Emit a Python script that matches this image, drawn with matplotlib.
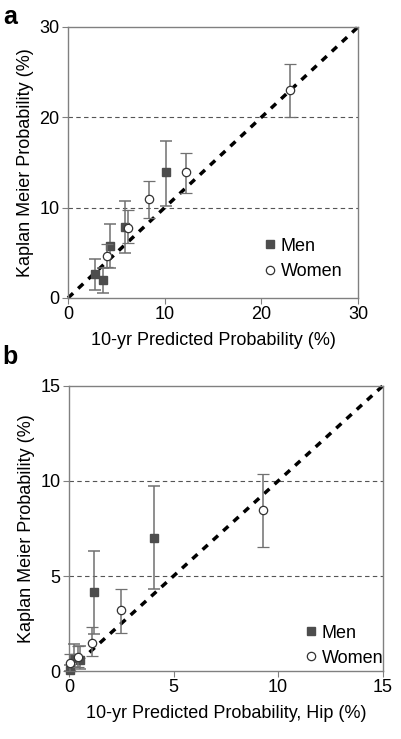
import numpy as np
import matplotlib
matplotlib.use("Agg")
import matplotlib.pyplot as plt
from matplotlib.lines import Line2D

plt.rcParams['font.family'] = ['Liberation Sans', 'DejaVu Sans']

# panel a (all fractures)
a_men_x = [2.8, 3.65, 4.35, 5.9, 10.1]
a_men_y = [2.7, 2.0, 5.8, 7.9, 13.9]
a_men_lo = [0.9, 0.5, 3.3, 5.0, 10.2]
a_men_hi = [4.35, 3.3, 8.2, 10.7, 17.4]

a_wom_x = [4.0, 6.2, 8.4, 12.2, 23.0]
a_wom_y = [4.6, 7.8, 11.0, 13.9, 23.0]
a_wom_lo = [3.4, 6.1, 8.8, 11.6, 20.0]
a_wom_hi = [6.0, 9.7, 12.9, 16.1, 25.9]

# panel b (hip)
b_men_x = [0.05, 0.25, 0.55, 1.2, 4.05]
b_men_y = [0.05, 0.7, 0.6, 4.15, 7.0]
b_men_lo = [0.0, 0.2, 0.1, 1.95, 4.3]
b_men_hi = [0.3, 1.4, 1.3, 6.3, 9.75]

b_wom_x = [0.05, 0.45, 1.1, 2.5, 9.3]
b_wom_y = [0.4, 0.75, 1.5, 3.2, 8.45]
b_wom_lo = [0.0, 0.2, 0.8, 2.0, 6.5]
b_wom_hi = [0.9, 1.3, 2.3, 4.3, 10.35]

fs = 13
spine_col = '#808080'
err_col = '#707070'
mark_col = '#4d4d4d'


def panel(ax, lim, ticks, grid, mx, my, mlo, mhi, wx, wy, wlo, whi, xlabel, leg_anchor):
    for g in grid:
        ax.axhline(g, color='#555555', lw=0.8, ls=(0, (4, 3)), zorder=1)
    ax.plot([0, lim], [0, lim], color='black', lw=2.5, ls=(0, (2, 2)),
            zorder=2, clip_on=False)
    my = np.array(my)
    wy = np.array(wy)
    ax.errorbar(mx, my, yerr=[my - np.array(mlo), np.array(mhi) - my],
                fmt='s', color=mark_col, ecolor=err_col, elinewidth=1.1,
                capsize=4, capthick=1.1, ms=6, mec=mark_col, mfc=mark_col,
                zorder=3, clip_on=False)
    ax.errorbar(wx, wy, yerr=[wy - np.array(wlo), np.array(whi) - wy],
                fmt='o', color=mark_col, ecolor=err_col, elinewidth=1.1,
                capsize=4, capthick=1.1, ms=6, mec='#333333', mfc='white',
                mew=0.9, zorder=4, clip_on=False)
    ax.set_xlim(0, lim)
    ax.set_ylim(0, lim)
    ax.set_xticks(ticks)
    ax.set_yticks(ticks)
    for s in ax.spines.values():
        s.set_color(spine_col)
        s.set_linewidth(1.0)
    ax.tick_params(colors=spine_col, labelcolor='black', labelsize=fs,
                   length=4, direction='out', pad=2)
    ax.set_xlabel(xlabel, fontsize=fs, labelpad=6)
    ax.set_ylabel('Kaplan Meier Probability (%)', fontsize=fs, labelpad=4)
    handles = [Line2D([], [], marker='s', ls='none', ms=6, mfc=mark_col, mec=mark_col),
               Line2D([], [], marker='o', ls='none', ms=6, mfc='white', mec='#333333', mew=0.9)]
    ax.legend(handles, ['Men', 'Women'], loc='lower left', bbox_to_anchor=leg_anchor,
              frameon=False, fontsize=fs, handletextpad=0.1, handlelength=1.0,
              labelspacing=0.45, borderaxespad=0)


fig = plt.figure(figsize=(4.01, 7.39), dpi=100)
ax1 = fig.add_axes([0.1696, 0.5968, 0.7232, 0.3667])
ax2 = fig.add_axes([0.172, 0.092, 0.7823, 0.3857])

panel(ax1, 30, [0, 10, 20, 30], [10, 20], a_men_x, a_men_y, a_men_lo, a_men_hi,
      a_wom_x, a_wom_y, a_wom_lo, a_wom_hi, '10-yr Predicted Probability (%)',
      (0.64, 0.04))
panel(ax2, 15, [0, 5, 10, 15], [5, 10], b_men_x, b_men_y, b_men_lo, b_men_hi,
      b_wom_x, b_wom_y, b_wom_lo, b_wom_hi, '10-yr Predicted Probability, Hip (%)',
      (0.72, -0.01))

fig.text(10 / 401, 1 - 17 / 739, 'a', fontsize=18, fontweight='bold',
         ha='center', va='center')
fig.text(10 / 401, 1 - 357 / 739, 'b', fontsize=18, fontweight='bold',
         ha='center', va='center')

fig.savefig('out.png', dpi=100)
